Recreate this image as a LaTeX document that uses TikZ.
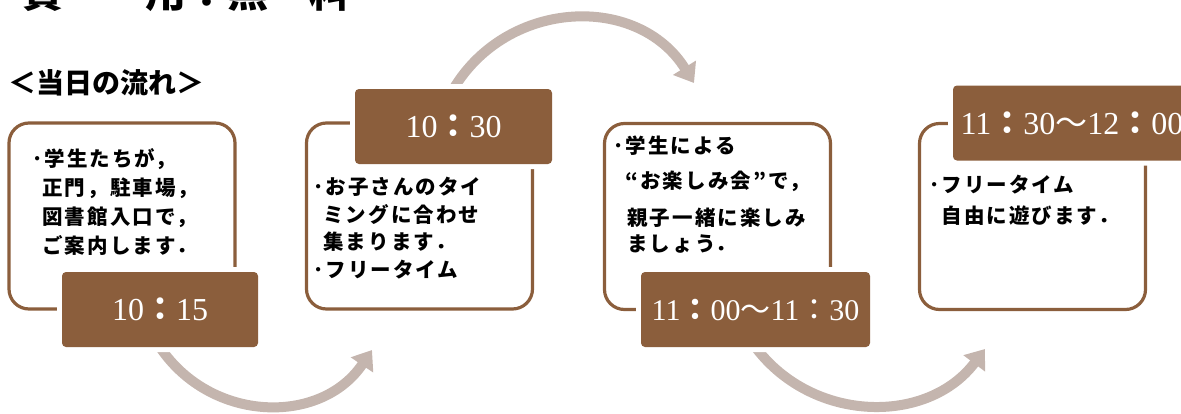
\documentclass[tikz,border=0pt]{standalone}
\usepackage{fontspec}
\usepackage{xcolor}
\usepackage{tikz}
\usetikzlibrary{arrows.meta, backgrounds}
\setmainfont{Liberation Serif}
\newfontfamily\jfont[LetterSpace=10]{Noto Sans CJK JP}
\newfontfamily\jtitle{Noto Sans CJK JP}
\newcommand{\tcol}{{\jtitle\bfseries ：}}
\newcommand{\tcolx}{{\jtitle ：}}
\newcommand{\twave}{{\jtitle ～}}
\definecolor{tea}{HTML}{8B5E3C}
\definecolor{ash}{HTML}{C4B5AE}
\tikzstyle{panel} = [draw=tea, line width=3.2pt, fill=white, rounded corners=20pt, minimum width=226pt, minimum height=186pt, inner sep=0pt]
\tikzstyle{stamp} = [fill=tea, text=white, rounded corners=4pt, inner sep=0pt, minimum height=75pt, preaction={draw=white, line width=10pt}]
\tikzstyle{memo} = [anchor=north west, inner sep=0pt, align=left, font=\jfont\bfseries\fontsize{20.5}{29}\selectfont]
\tikzstyle{flow} = [draw=ash, line width=10pt, -{Triangle[length=18pt,width=26pt]}]

\begin{document}
\begin{tikzpicture}[x=1pt,y=1pt]
\useasboundingbox (0,0) rectangle (1181,-413);
\node[anchor=base west, inner sep=0pt, font=\jtitle\bfseries\fontsize{41}{41}\selectfont] (head) at (22,-7) {費　　用：無　料};
\node[anchor=base west, inner sep=0pt, font=\jtitle\bfseries\fontsize{28}{28}\selectfont] (flowtitle) at (8,-93) {＜当日の流れ＞};

\node[panel] (b1) at (122,-216) {};
\node[panel] (b2) at (419.5,-216) {};
\node[panel] (b3) at (717.5,-216.5) {};
\node[panel] (b4) at (1032.5,-216.5) {};

\node[memo] (m1) at (32,-148) {･学生たちが，\\\phantom{･}正門，駐車場，\\\phantom{･}図書館入口で，\\\phantom{･}ご案内します．};
\node[memo, font=\jfont\bfseries\fontsize{20.5}{27.5}\selectfont] (m2) at (313,-177) {･お子さんのタイ\\\phantom{･}ミングに合わせ\\\phantom{･}集まります．\\･フリータイム};
\node[memo, font=\jfont\bfseries\fontsize{20.5}{27}\selectfont] (m3) at (613,-136) {･学生による\\[8pt]\phantom{･}\hspace{2pt}“お楽しみ会”で，\\[10pt]\phantom{･}\hspace{4pt}親子一緒に楽しみ\\[-1pt]\phantom{･}\hspace{4pt}ましょう．};
\node[memo, font=\jfont\bfseries\fontsize{20.5}{31}\selectfont] (m4) at (929,-175) {･フリータイム\\\phantom{･}\hspace{2pt}自由に遊びます．};

\node[stamp, minimum width=196pt, font=\fontsize{32}{32}\selectfont] (t1) at (160,-309.5) {10\tcol 15};
\node[stamp, minimum width=197pt, font=\fontsize{32}{32}\selectfont] (t2) at (453.5,-126.5) {10\tcol 30};
\node[stamp, minimum width=229pt, font=\fontsize{30}{30}\selectfont] (t3) at (755.5,-309.5) {11\tcol 00\twave 11\tcolx 30};
\node[stamp, minimum width=238pt, font=\fontsize{32}{32}\selectfont] (t4) at (1072,-123) {11\tcol 30\twave 12\tcol 00};

\coordinate (a1e) at (372,-350);
\coordinate (a2e) at (694,-83);
\coordinate (a3e) at (985,-349);
\begin{scope}[on background layer]
\draw[flow] (t1.south) to[out=-56, in=236, looseness=1.1] (a1e);
\draw[flow] (t2.north) to[out=59, in=122, looseness=1.12] (a2e);
\draw[flow] (t3.south) to[out=-53, in=233, looseness=1.06] (a3e);
\end{scope}
\end{tikzpicture}
\end{document}
